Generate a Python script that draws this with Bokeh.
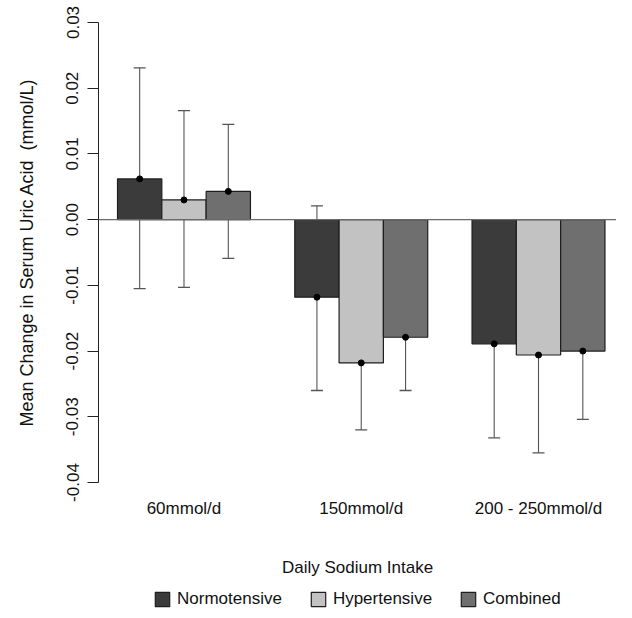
from bokeh.plotting import figure
from bokeh.layouts import column
from bokeh.models import (ColumnDataSource, Range1d, FixedTicker, Whisker, TeeHead,
                          Span, Legend, LegendItem)
from bokeh.embed import file_html
from bokeh.resources import INLINE

groups = ["60mmol/d", "150mmol/d", "200 - 250mmol/d"]
series = ["Normotensive", "Hypertensive", "Combined"]
colors = ["#3b3b3b", "#c2c2c2", "#6f6f6f"]

normo_mean = [0.0062, -0.0118, -0.0189]
normo_upper = [0.0231, 0.0021, -0.0049]
normo_lower = [-0.0105, -0.0260, -0.0332]
hyper_mean = [0.0030, -0.0218, -0.0206]
hyper_upper = [0.0166, -0.0117, -0.0058]
hyper_lower = [-0.0103, -0.0320, -0.0355]
comb_mean = [0.0043, -0.0179, -0.0200]
comb_upper = [0.0145, -0.0098, -0.0096]
comb_lower = [-0.0059, -0.0260, -0.0304]

y_ticks = [-0.04, -0.03, -0.02, -0.01, 0.0, 0.01, 0.02, 0.03]
y_tick_labels = ["-0.04", "-0.03", "-0.02", "-0.01", "0.00", "0.01", "0.02", "0.03"]

means = [normo_mean, hyper_mean, comb_mean]
uppers = [normo_upper, hyper_upper, comb_upper]
lowers = [normo_lower, hyper_lower, comb_lower]

FONT = "Liberation Sans"

p = figure(frame_width=518, frame_height=460, output_backend="svg", toolbar_location=None,
           x_range=Range1d(0.571, 12.26), y_range=Range1d(-0.04, 0.03),
           min_border_left=98, min_border_right=0, min_border_top=22,
           min_border_bottom=0, outline_line_color=None)
p.xgrid.visible = False
p.ygrid.visible = False

p.add_layout(Span(location=0, dimension="width", line_color="#6a6a6a", line_width=1.3))

for s in range(3):
    xs = [1.5 + 4 * g + s for g in range(3)]
    src = ColumnDataSource(dict(x=xs, top=means[s], upper=uppers[s], lower=lowers[s]))
    p.vbar(x="x", top="top", bottom=0, width=1.0, source=src,
           fill_color=colors[s], line_color="#1e1e1e", line_width=1.2)
    w = Whisker(base="x", upper="upper", lower="lower", source=src,
                line_color="#555555", line_width=1.1,
                upper_head=TeeHead(size=12, line_color="#555555", line_width=1.3),
                lower_head=TeeHead(size=12, line_color="#555555", line_width=1.3))
    p.add_layout(w)
    p.scatter(x="x", y="top", source=src, size=6, color="black")

# y axis
yax = p.yaxis[0]
yax.ticker = FixedTicker(ticks=y_ticks)
yax.major_label_overrides = {t: l for t, l in zip(y_ticks, y_tick_labels)}
yax.minor_tick_line_color = None
yax.major_tick_in = 0
yax.major_tick_out = 11
yax.major_tick_line_color = "#222222"
yax.axis_line_color = "#222222"
yax.major_label_orientation = "parallel"
yax.major_label_standoff = 9
yax.major_label_text_font = FONT
yax.major_label_text_font_size = "17px"
yax.major_label_text_color = "#111111"
yax.axis_label = "Mean Change in Serum Uric Acid \u00a0(mmol/L)"
yax.axis_label_text_font = FONT
yax.axis_label_text_font_size = "18px"
yax.axis_label_text_font_style = "normal"
yax.axis_label_text_color = "#111111"
yax.axis_label_standoff = 27

# x axis
xax = p.xaxis[0]
centers = [2.5 + 4 * g for g in range(3)]
xax.ticker = FixedTicker(ticks=centers)
xax.major_label_overrides = {c: l for c, l in zip(centers, groups)}
xax.axis_line_color = None
xax.major_tick_line_color = None
xax.minor_tick_line_color = None
xax.major_label_standoff = 10
xax.major_label_text_font = FONT
xax.major_label_text_font_size = "17px"
xax.major_label_text_color = "#111111"
xax.axis_label = "Daily Sodium Intake"
xax.axis_label_text_font = FONT
xax.axis_label_text_font_size = "17px"
xax.axis_label_text_font_style = "normal"
xax.axis_label_text_color = "#111111"
xax.axis_label_standoff = 37

# legend strip (separate small figure beneath the chart)
lf = figure(width=616, height=30, output_backend="svg", toolbar_location=None,
            x_range=Range1d(0, 1), y_range=Range1d(0, 1),
            x_axis_location=None, y_axis_location=None,
            min_border=0, outline_line_color=None)
lf.xgrid.visible = False
lf.ygrid.visible = False
items = []
for s in range(3):
    r = lf.vbar(x=[-10], top=[0], bottom=0, width=0.1,
                fill_color=colors[s], line_color="#1e1e1e", line_width=1.2)
    items.append(LegendItem(label=series[s], renderers=[r]))
legend = Legend(items=items, orientation="horizontal", location=(55, 0),
                glyph_width=18, glyph_height=18, label_standoff=6, spacing=27,
                label_text_font=FONT, label_text_font_size="17px",
                label_text_color="#111111", padding=0, margin=0,
                border_line_color=None, background_fill_alpha=0)
lf.add_layout(legend)

layout = column(p, lf, spacing=0)
open("out.html", "w").write(file_html(layout, INLINE))
